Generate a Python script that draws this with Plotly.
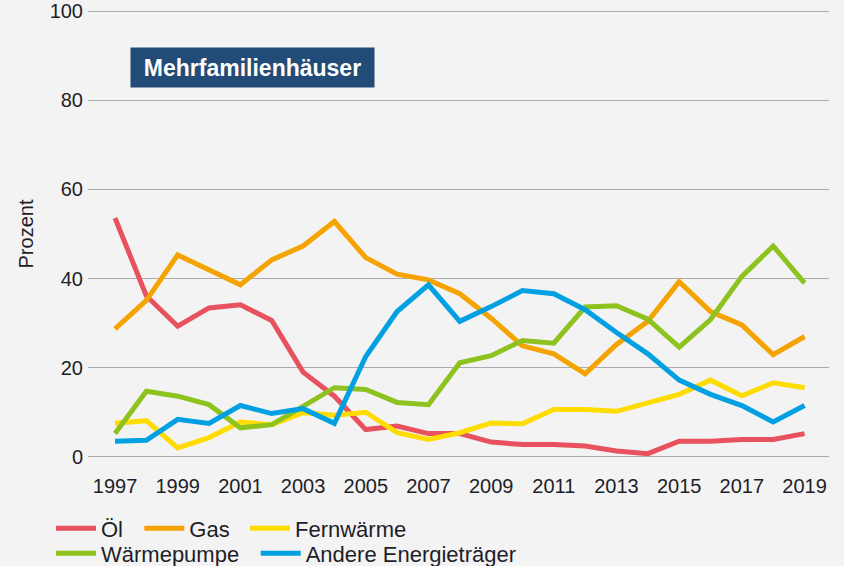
import plotly.graph_objects as go

years = list(range(1997, 2020))

oel = [53.6, 36.1, 29.3, 33.4, 34.1, 30.6, 19.0, 13.6, 6.1, 6.9, 5.2, 5.2, 3.3,
       2.75, 2.75, 2.4, 1.3, 0.7, 3.5, 3.5, 3.9, 3.9, 5.2]
gas = [28.7, 35.1, 45.3, 42.0, 38.6, 44.2, 47.3, 52.8, 44.7, 41.0, 39.7, 36.6, 31.1,
       24.9, 23.1, 18.6, 25.2, 30.4, 39.3, 32.6, 29.6, 22.9, 27.0]
fernwaerme = [7.5, 8.1, 2.0, 4.3, 7.8, 7.2, 9.9, 9.3, 10.0, 5.4, 3.9, 5.4, 7.6,
              7.4, 10.6, 10.6, 10.2, 12.2, 14.0, 17.2, 13.7, 16.6, 15.5]
waermepumpe = [5.2, 14.7, 13.6, 11.7, 6.5, 7.2, 11.3, 15.5, 15.1, 12.2, 11.7, 21.1, 22.7,
               26.1, 25.5, 33.6, 33.9, 30.9, 24.6, 30.8, 40.5, 47.3, 39.0]
andere = [3.5, 3.7, 8.4, 7.5, 11.5, 9.7, 10.8, 7.5, 22.5, 32.6, 38.6, 30.4, 33.7,
          37.3, 36.6, 33.0, 27.9, 23.1, 17.2, 14.0, 11.5, 7.8, 11.5]

series_names = ["Öl", "Gas", "Fernwärme", "Wärmepumpe", "Andere Energieträger"]
series_values = [oel, gas, fernwaerme, waermepumpe, andere]
colors = ["#E8515E", "#F5A300", "#FFDC00", "#8DC21F", "#00A0E2"]

x_ticks = list(range(1997, 2020, 2))
y_ticks = [0, 20, 40, 60, 80, 100]

# plot area in pixels (y range padded slightly so edge gridlines are drawn)
L, W = 88, 741
T, B = 8.8, 459.5
H = B - T
def px_x(p):
    return (p - L) / W
def px_y(p):
    return (B - p) / H

legend_pos = [(56, 529), (144.3, 529), (250, 529), (56, 554), (260.7, 554)]
legend_ids = ["legend", "legend2", "legend3", "legend4", "legend5"]

fig = go.Figure()
for name, vals, col, lid in zip(series_names, series_values, colors, legend_ids):
    fig.add_trace(go.Scatter(
        x=years, y=vals, name=name, mode="lines",
        line=dict(color=col, width=5),
        legend=lid,
        hoverinfo="skip",
    ))

font_family = "Liberation Sans, Arial, sans-serif"
text_color = "#1E1E28"

layout_legends = {}
for lid, (lx, ly) in zip(legend_ids, legend_pos):
    layout_legends[lid] = dict(
        x=px_x(lx - 5), y=px_y(ly), xanchor="left", yanchor="middle",
        orientation="h", bgcolor="rgba(0,0,0,0)", borderwidth=0,
        font=dict(family=font_family, size=22, color=text_color),
        itemwidth=40, tracegroupgap=0,
    )

fig.update_layout(
    width=844, height=566,
    margin=dict(l=L, r=844 - L - W, t=T, b=566 - B, autoexpand=False),
    paper_bgcolor="#F3F3F3", plot_bgcolor="#F3F3F3",
    showlegend=True,
    xaxis=dict(
        range=[1996.138, 2019.78], tickmode="array", tickvals=x_ticks,
        ticktext=[str(v) for v in x_ticks],
        showgrid=False, zeroline=False, showline=False, ticks="",
        ticklabelstandoff=13,
        tickfont=dict(family=font_family, size=20, color=text_color),
    ),
    yaxis=dict(
        range=[-0.5, 100.5], tickmode="array", tickvals=y_ticks,
        showgrid=True, gridcolor="#ABABAB", gridwidth=1.3,
        zeroline=False, showline=False, ticks="",
        ticklabelstandoff=4,
        tickfont=dict(family=font_family, size=20, color=text_color),
        title=dict(text="Prozent", standoff=10,
                   font=dict(family=font_family, size=20, color=text_color)),
    ),
    annotations=[dict(
        text="<b>Mehrfamilienhäuser</b>", xref="paper", yref="paper",
        x=px_x(252.8), y=px_y(67.7), xanchor="center", yanchor="middle",
        showarrow=False, bgcolor="#234B77", width=241, height=37,
        font=dict(family=font_family, size=23, color="#FFFFFF"),
    )],
    **layout_legends,
)

fig.write_html(
    "out.html",
    config={"displayModeBar": False},
    post_script="document.body.style.margin='0';document.body.style.background='#F3F3F3';",
)
